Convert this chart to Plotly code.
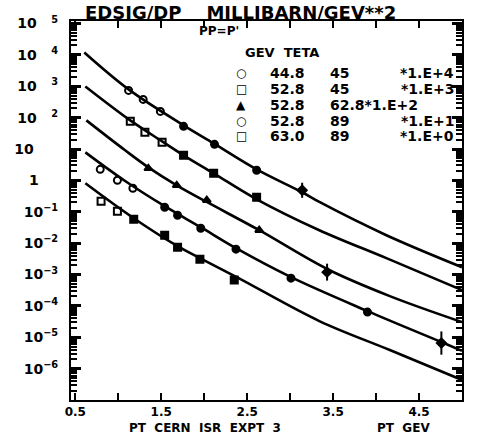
import plotly.graph_objects as go

# ---------------- data ----------------
# PT (GeV) and scaled invariant cross-section E d3sig/dp3 (mb/GeV**2)
s1_pt  = [1.12, 1.29, 1.49, 1.76, 2.12, 2.61, 3.14]
s1_val = [738, 381, 158, 52.7, 14.1, 2.10, 0.484]
s1_err_dec = [0, 0, 0, 0, 0, 0, 0.24]

s2_pt  = [1.14, 1.31, 1.51, 1.76, 2.11, 2.61]
s2_val = [76.0, 34.0, 16.3, 6.29, 1.68, 0.290]
s2_err_dec = [0, 0, 0, 0, 0, 0]

s3_pt  = [1.35, 1.68, 2.03, 2.64, 3.43]
s3_val = [2.43, 0.698, 0.233, 0.0258, 0.00119]
s3_err_dec = [0, 0, 0, 0, 0.27]

s4_pt  = [0.79, 0.99, 1.17, 1.54, 1.69, 1.96, 2.37, 3.01, 3.90, 4.76]
s4_val = [2.25, 1.01, 0.561, 0.139, 0.0775, 0.0299, 0.00641, 7.66e-4, 6.34e-5, 6.53e-6]
s4_err_dec = [0, 0, 0, 0, 0, 0, 0, 0, 0, 0.37]

s5_pt  = [0.80, 0.99, 1.18, 1.54, 1.69, 1.95, 2.35]
s5_val = [0.216, 0.104, 0.0578, 0.0179, 0.00743, 0.00308, 6.62e-4]
s5_err_dec = [0, 0, 0, 0, 0, 0, 0]

# fitted curves
fit1_pt  = [0.605, 1.12, 1.76, 2.11, 2.61, 3.14, 3.34, 4.12, 5.0]
fit1_val = [1.19e4, 793, 56.8, 15.2, 2.25, 0.418, 0.205, 0.0179, 1.71e-3]
fit2_pt  = [0.617, 1.14, 1.51, 1.76, 2.11, 2.59, 3.34, 4.12, 5.0]
fit2_val = [989, 81.8, 17.5, 6.29, 1.68, 0.269, 0.0258, 3.32e-3, 3.18e-4]
fit3_pt  = [0.629, 1.08, 1.35, 1.68, 2.03, 2.64, 3.43, 4.16, 5.0]
fit3_val = [81.8, 9.08, 2.61, 0.698, 0.205, 0.0258, 1.5e-3, 2.05e-4, 3.05e-5]
fit4_pt  = [0.617, 1.08, 1.54, 1.96, 2.37, 3.01, 3.90, 4.76, 5.0]
fit4_val = [7.83, 0.955, 0.150, 0.0321, 6.90e-3, 8.24e-4, 6.83e-5, 7.03e-6, 3.7e-6]
fit5_pt  = [0.617, 1.18, 1.69, 1.95, 2.40, 3.34, 4.16, 5.0]
fit5_val = [0.809, 0.0622, 8.0e-3, 3.32e-3, 7.66e-4, 3.28e-5, 3.92e-6, 4.35e-7]

# legend table
leg_energy = ["44.8", "52.8", "52.8", "52.8", "63.0"]
leg_teta   = ["45", "45", "62.8", "89", "89"]
leg_scale  = ["*1.E+4", "*1.E+3", "*1.E+2", "*1.E+1", "*1.E+0"]
leg_glyph  = ["○", "□", "▲", "○", "□"]

x_tickvals = [0.5, 1.0, 1.5, 2.0, 2.5, 3.0, 3.5, 4.0, 4.5]
x_ticktext = ["0.5", " ", "1.5", " ", "2.5", " ", "3.5", " ", "4.5"]
y_exps = [5, 4, 3, 2, 1, 0, -1, -2, -3, -4, -5, -6]

# ---------------- figure ----------------
FONT = "DejaVu Sans"
L, R, T, B = 71, 462, 21, 400
W, H = 479, 435


def px(x):
    return (x - L) / (R - L)


def py(y):
    return (B - y) / (B - T)


fig = go.Figure()

for fx, fy in [(fit1_pt, fit1_val), (fit2_pt, fit2_val), (fit3_pt, fit3_val),
               (fit4_pt, fit4_val), (fit5_pt, fit5_val)]:
    fig.add_trace(go.Scatter(x=fx, y=fy, mode="lines",
                             line=dict(color="black", width=2.6, shape="spline", smoothing=1.0),
                             showlegend=False, hoverinfo="skip"))

series = [
    (s1_pt, s1_val, s1_err_dec, ["circle-open"] * 3 + ["circle"] * 3 + ["diamond"]),
    (s2_pt, s2_val, s2_err_dec, ["square-open"] * 3 + ["square"] * 3),
    (s3_pt, s3_val, s3_err_dec, ["triangle-up"] * 4 + ["diamond"]),
    (s4_pt, s4_val, s4_err_dec, ["circle-open"] * 3 + ["circle"] * 6 + ["diamond"]),
    (s5_pt, s5_val, s5_err_dec, ["square-open"] * 2 + ["square"] * 5),
]
for xs, ys, ed, syms in series:
    up = [v * (10 ** e - 1) for v, e in zip(ys, ed)]
    dn = [v * (1 - 10 ** (-e)) for v, e in zip(ys, ed)]
    fig.add_trace(go.Scatter(
        x=xs, y=ys, mode="markers",
        marker=dict(symbol=syms, size=7, color="black", line=dict(color="black", width=2)),
        error_y=dict(type="data", symmetric=False, array=up, arrayminus=dn,
                     thickness=2, width=0, color="black"),
        showlegend=False))

y_tickvals = [10.0 ** k for k in y_exps]
y_ticktext = []
for k in y_exps:
    if k > 1:
        y_ticktext.append("10&nbsp;&nbsp;&nbsp;<sup>%d</sup>" % k)
    elif k == 1:
        y_ticktext.append("10&nbsp;&nbsp;&nbsp;&nbsp;&nbsp;")
    elif k == 0:
        y_ticktext.append("1&nbsp;&nbsp;&nbsp;&nbsp;")
    else:
        y_ticktext.append("10<sup>−%d</sup>" % (-k))

ann = []


def add_text(text, x, y, size=13, xanchor="left"):
    ann.append(dict(text=text, x=px(x), y=py(y), xref="paper", yref="paper",
                    xanchor=xanchor, yanchor="middle", showarrow=False,
                    font=dict(family=FONT, size=size, color="black", weight="bold")))


add_text("EDSIG/DP&nbsp;&nbsp;&nbsp;&nbsp;MILLIBARN/GEV**2", 240, 13, size=18, xanchor="center")
add_text("PP=P'", 219, 31, size=12, xanchor="center")
add_text("GEV  TETA", 243, 52, size=13)
rows_y = [73, 89, 105, 121, 136]
for i in range(5):
    add_text(leg_glyph[i], 241, rows_y[i], size=12, xanchor="center")
    add_text(leg_energy[i], 268, rows_y[i], size=14)
    if i == 2:
        add_text(leg_teta[i] + leg_scale[i], 328, rows_y[i], size=14)
    else:
        add_text(leg_teta[i], 328, rows_y[i], size=14)
        add_text(leg_scale[i], 456, rows_y[i], size=14, xanchor="right")
add_text("PT&nbsp;&nbsp;CERN&nbsp;&nbsp;ISR&nbsp;&nbsp;EXPT&nbsp;&nbsp;3", 205, 428, size=12, xanchor="center")
add_text("PT&nbsp;&nbsp;GEV", 403, 428, size=12, xanchor="center")

fig.update_layout(
    width=W, height=H,
    margin=dict(l=L, r=W - R, t=T, b=H - B),
    plot_bgcolor="white", paper_bgcolor="white",
    annotations=ann,
    xaxis=dict(range=[0.45, 5.0], showline=True, linecolor="black", linewidth=2,
               mirror="allticks", ticks="inside", ticklen=7, tickwidth=2, tickcolor="black",
               tickmode="array", tickvals=x_tickvals, ticktext=x_ticktext,
               showgrid=False, zeroline=False,
               tickfont=dict(family=FONT, size=12, color="black", weight="bold")),
    yaxis=dict(type="log", range=[-7, 5.08], showline=True, linecolor="black", linewidth=2,
               mirror="allticks", ticks="inside", ticklen=10, tickwidth=3, tickcolor="black",
               tickmode="array", tickvals=y_tickvals, ticktext=y_ticktext,
               minor=dict(ticks="inside", ticklen=6, tickwidth=1.5, tickcolor="black",
                          dtick="D1", showgrid=False),
               showgrid=False, zeroline=False, ticklabelstandoff=8,
               tickfont=dict(family=FONT, size=14, color="black", weight="bold")),
)

fig.write_html("out.html")
